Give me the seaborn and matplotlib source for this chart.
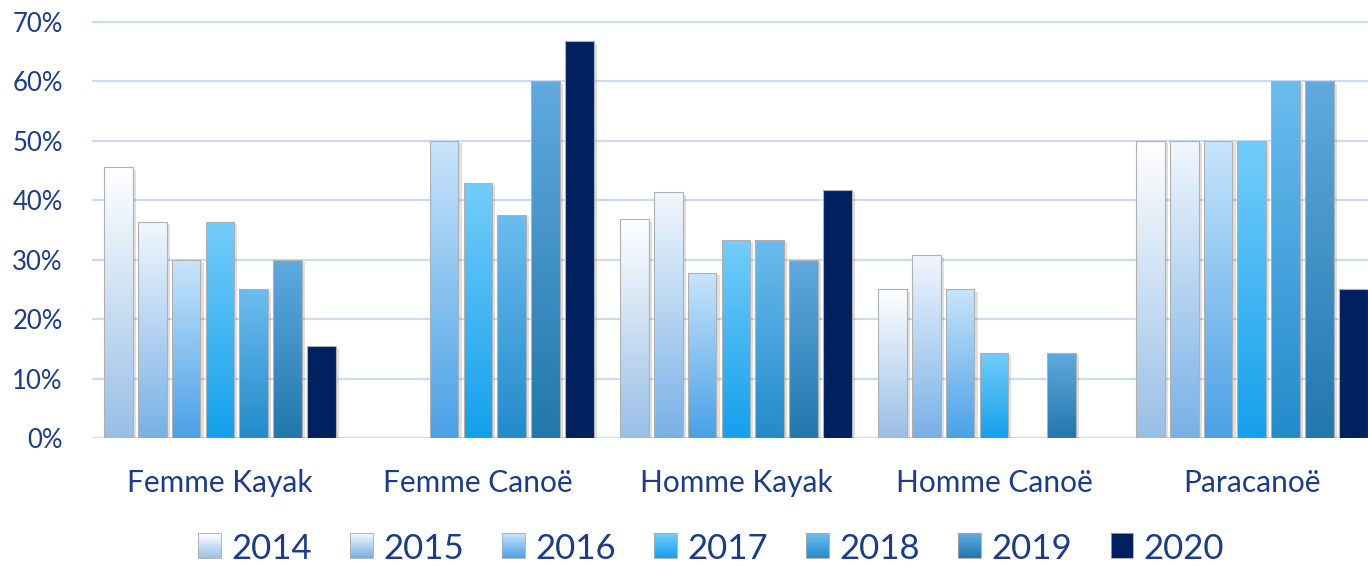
import numpy as np
import pandas as pd
import matplotlib
matplotlib.use("Agg")
import matplotlib.pyplot as plt
import seaborn as sns
from matplotlib.colors import LinearSegmentedColormap, to_rgb
from matplotlib.patches import Rectangle
from matplotlib.legend_handler import HandlerBase

# Données (en %)
categories = ["Femme Kayak", "Femme Canoë", "Homme Kayak", "Homme Canoë", "Paracanoë"]
years = ["2014", "2015", "2016", "2017", "2018", "2019", "2020"]
v2014 = [45.5, 0, 36.8, 25.0, 50.0]
v2015 = [36.4, 0, 41.3, 30.8, 50.0]
v2016 = [30.0, 50.0, 27.8, 25.0, 50.0]
v2017 = [36.4, 42.9, 33.3, 14.3, 50.0]
v2018 = [25.0, 37.5, 33.3, 0, 60.0]
v2019 = [30.0, 60.0, 30.0, 14.3, 60.0]
v2020 = [15.4, 66.7, 41.7, 0, 25.0]
series = [v2014, v2015, v2016, v2017, v2018, v2019, v2020]

# dégradés (haut, bas) par année
gradients = [
    ("#ffffff", "#98bfe6"),
    ("#f2f7fd", "#78b0e6"),
    ("#c9e5fb", "#4aa0e6"),
    ("#74cdfa", "#14a0ec"),
    ("#6cbcef", "#238bcb"),
    ("#60aae0", "#2277ad"),
    ("#00205f", "#00205f"),
]
TEXT = "#1b3c87"
GRID = "#c8dcf6"

rows = []
for y, vals in zip(years, series):
    for c, v in zip(categories, vals):
        rows.append({"cat": c, "year": y, "val": v})
df = pd.DataFrame(rows)

sns.set_style("white")
plt.rcParams["font.family"] = ["Lato", "DejaVu Sans"]

fig = plt.figure(figsize=(13.68, 5.67), dpi=100)
ax = fig.add_axes([92 / 1368, (567 - 438) / 567, (1368 - 92) / 1368, 418 / 567])

mid_colors = [gradients[i][1] for i in range(len(years))]
sns.barplot(data=df, x="cat", y="val", hue="year", order=categories,
            hue_order=years, palette=mid_colors, width=0.92, gap=0.15,
            edgecolor="#b0b0b0", linewidth=0.8, ax=ax, legend=False, zorder=3)

# remplissage en dégradé
for i, cont in enumerate(ax.containers):
    top, bot = gradients[i]
    cmap = LinearSegmentedColormap.from_list("g%d" % i, [bot, top])
    for p in cont.patches:
        h = p.get_height()
        if h <= 0:
            p.set_visible(False)
            continue
        x0 = p.get_x()
        w = p.get_width()
        # ombre
        ax.add_patch(Rectangle((x0 + 0.012, 0), w, h - 0.4, facecolor="#000000",
                               alpha=0.12, edgecolor="none", zorder=2))
        grad = np.linspace(0, 1, 256).reshape(-1, 1)
        im = ax.imshow(grad, cmap=cmap, origin="lower", aspect="auto",
                       extent=[x0, x0 + w, 0, h], zorder=3.5)
        im.set_clip_path(p)
        p.set_facecolor("none")
        p.set_zorder(4)

ax.set_xlim(-0.496, 4.45)
ax.set_ylim(0, 70.3)
ax.set_yticks(np.arange(0, 71, 10))
ax.set_yticklabels(["%d%%" % t for t in range(0, 71, 10)])
ax.yaxis.grid(True, color=GRID, linewidth=1.6, zorder=0)
ax.set_axisbelow(True)
for s in ax.spines.values():
    s.set_visible(False)
ax.set_xlabel("")
ax.set_ylabel("")
ax.tick_params(axis="y", length=0, pad=21, labelsize=18.5, labelcolor=TEXT)
ax.tick_params(axis="x", length=0, pad=22, labelsize=21.5, labelcolor=TEXT)


class GradHandler(HandlerBase):
    def __init__(self, top, bot):
        super().__init__()
        self.top = np.array(to_rgb(top))
        self.bot = np.array(to_rgb(bot))

    def create_artists(self, legend, orig, xd, yd, width, height, fontsize, trans):
        arts = []
        n = 20
        for k in range(n):
            t = k / (n - 1)
            col = self.bot * (1 - t) + self.top * t
            r = Rectangle((xd, yd + height * k / n), width, height / n + 0.3,
                          facecolor=col, edgecolor="none", transform=trans)
            arts.append(r)
        arts.append(Rectangle((xd, yd), width, height, facecolor="none",
                              edgecolor="#a8a8a8", linewidth=0.6, transform=trans))
        return arts


handles = [Rectangle((0, 0), 1, 1) for _ in years]
hmap = {h: GradHandler(*gradients[i]) for i, h in enumerate(handles)}
leg = fig.legend(handles, years, loc="center", bbox_to_anchor=(711 / 1368, 1 - 549 / 567),
                 ncol=7, frameon=False, fontsize=25, handler_map=hmap,
                 handlelength=0.66, handleheight=0.75, handletextpad=0.3,
                 columnspacing=1.1)
for t in leg.get_texts():
    t.set_color(TEXT)

plt.savefig("out.png", dpi=100)
plt.close()
